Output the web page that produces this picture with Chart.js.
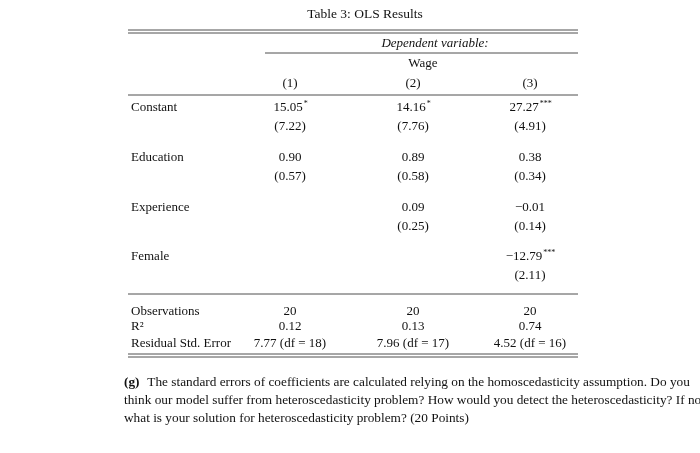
<!DOCTYPE html><html><head><meta charset="utf-8">
<script src="https://cdn.jsdelivr.net/npm/chart.js@4"></script>
<style>html,body{margin:0;background:#fff}#w{width:700px;height:453px}</style></head><body><div id="w"><canvas id="c"></canvas></div>
<script>
const title = "Table 3: OLS Results";
const columns = ["(1)", "(2)", "(3)"];
const rowLabels = ["Constant", "Education", "Experience", "Female"];
const coefs = [["15.05|*", "14.16|*", "27.27|***"], ["0.90", "0.89", "0.38"], ["", "0.09", "−0.01"], ["", "", "−12.79|***"]];
const ses = [["(7.22)", "(7.76)", "(4.91)"], ["(0.57)", "(0.58)", "(0.34)"], ["", "(0.25)", "(0.14)"], ["", "", "(2.11)"]];
const statLabels = ["Observations", "R²", "Residual Std. Error"];
const stats = [["20", "20", "20"], ["0.12", "0.13", "0.74"], ["7.77 (df = 18)", "7.96 (df = 17)", "4.52 (df = 16)"]];
const note = ["(g) The standard errors of coefficients are calculated relying on the homoscedasticity assumption. Do you",
 "think our model suffer from heteroscedasticity problem? How would you detect the heteroscedasticity? If not,",
 "what is your solution for heteroscedasticity problem? (20 Points)"];
const colX = [290, 413, 530];
const rowY = [108, 158, 208, 257];
const statY = [312, 327, 344];
const F = '"Liberation Serif", serif';
const tablePlugin = {id:'tbl', afterDraw(ch){
 const c=ch.ctx, X=v=>ch.scales.x.getPixelForValue(v), Y=v=>ch.scales.y.getPixelForValue(v);
 c.save(); c.fillStyle='#111'; c.strokeStyle='#222'; c.textBaseline='middle';
 const txt=(s,x,y,al,f)=>{c.font=f||('13px '+F); c.textAlign=al||'center';
   const [m,sup]=s.split('|'); if(!sup){c.fillText(m,X(x),Y(y));return;}
   const w=c.measureText(m).width; c.font='8px '+F; const ws=c.measureText(sup).width;
   c.font=f||('13px '+F); c.textAlign='left'; const x0=X(x)-(w+ws)/2; c.fillText(m,x0,Y(y));
   c.font='8px '+F; c.fillText(sup,x0+w+1,Y(y)-4);};
 const line=(x1,x2,y,lw)=>{c.lineWidth=lw||0.8;c.beginPath();c.moveTo(X(x1),Y(y));c.lineTo(X(x2),Y(y));c.stroke();};
 txt(title,365,14,'center','13.5px '+F);
 line(128,578,30);line(128,578,33);
 txt('Dependent variable:',435,44,'center','italic 13px '+F);
 line(265,578,53);
 txt('Wage',423,64);
 columns.forEach((s,i)=>txt(s,colX[i],84));
 line(128,578,95);
 rowLabels.forEach((r,j)=>{txt(r,131,rowY[j],'left');
   coefs[j].forEach((s,i)=>{if(s)txt(s,colX[i],rowY[j]);});
   ses[j].forEach((s,i)=>{if(s)txt(s,colX[i],rowY[j]+19);});});
 line(128,578,294);
 statLabels.forEach((r,j)=>{txt(r,131,statY[j],'left'); stats[j].forEach((s,i)=>txt(s,colX[i],statY[j]));});
 line(128,578,354);line(128,578,357);
 note.forEach((s,j)=>{c.font='13.3px '+F;c.textAlign='left';
   if(j===0){c.font='bold 13.3px '+F;c.fillText('(g)',X(124),Y(383));c.font='13.3px '+F;c.fillText(s.slice(3),X(144),Y(383));}
   else c.fillText(s,X(124),Y(383+18*j));});
 c.restore();}};
new Chart(document.getElementById('c'),{type:'scatter',data:{datasets:[{data:[]}]},
 plugins:[tablePlugin],
 options:{responsive:true,maintainAspectRatio:false,animation:false,layout:{padding:0},
  plugins:{legend:{display:false},tooltip:{enabled:false}},
  scales:{x:{type:'linear',min:0,max:700,display:false},y:{type:'linear',min:0,max:453,reverse:true,display:false}}}});
</script></body></html>
